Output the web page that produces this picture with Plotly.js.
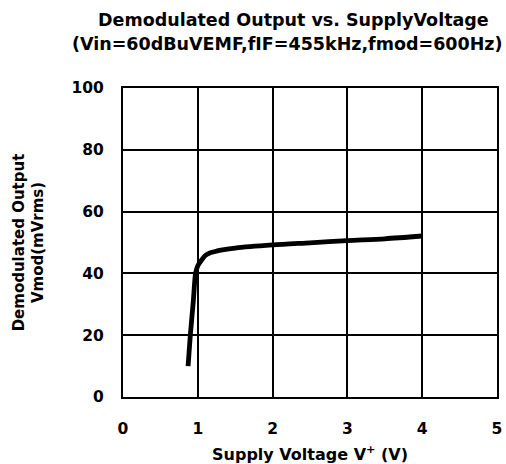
<!DOCTYPE html>
<html>
<head>
<meta charset="utf-8">
<script src="https://cdn.plot.ly/plotly-3.0.1.min.js"></script>
<style>html,body{margin:0;padding:0;background:#fff;}#chart{width:506px;height:464px;}</style>
</head>
<body>
<div id="chart"></div>
<script>
const supplyVoltage = [0.87, 0.90, 0.94, 0.97, 1.0, 1.05, 1.1, 1.16, 1.25, 1.33, 1.5, 2.0, 2.5, 3.0, 3.5, 4.0];
const demodOutput = [10, 20, 31, 40, 42.5, 44.3, 45.8, 46.6, 47.2, 47.6, 48.2, 49.2, 49.9, 50.6, 51.2, 52.1];
const xTicks = [0, 1, 2, 3, 4, 5];
const yTicks = [0, 20, 40, 60, 80, 100];
const titleLines = ['Demodulated Output vs. SupplyVoltage', '(Vin=60dBuVEMF,fIF=455kHz,fmod=600Hz)'];

const fontFam = '"DejaVu Sans", Verdana, sans-serif';

const trace = {
  x: supplyVoltage,
  y: demodOutput,
  type: 'scatter',
  mode: 'lines',
  line: {color: '#000', width: 4.8, shape: 'spline', smoothing: 0.8},
  showlegend: false,
  hoverinfo: 'skip'
};

const plotTop = 88, plotBottom = 397;
const pxToPaperY = (py) => (plotBottom - py) / (plotBottom - plotTop);

const layout = {
  width: 506, height: 464,
  paper_bgcolor: '#fff', plot_bgcolor: '#fff',
  margin: {l: 123, r: 9, t: plotTop, b: 464 - plotBottom},
  font: {family: fontFam, color: '#000'},
  annotations: [
    {text: titleLines[0], xref: 'paper', yref: 'paper', x: 0.456, y: pxToPaperY(20),
     xanchor: 'center', yanchor: 'middle', showarrow: false,
     font: {family: fontFam, size: 17.5, weight: 'bold', color: '#000'}},
    {text: titleLines[1], xref: 'paper', yref: 'paper', x: 0.44, y: pxToPaperY(44),
     xanchor: 'center', yanchor: 'middle', showarrow: false,
     font: {family: fontFam, size: 17.5, weight: 'bold', color: '#000'}}
  ],
  xaxis: {
    range: [0, 5], tickvals: xTicks, ticktext: xTicks.map(String),
    showgrid: true, gridcolor: '#000', gridwidth: 2,
    zeroline: false, showline: true, linecolor: '#000', linewidth: 2, mirror: true,
    ticks: '', ticklabelstandoff: 16,
    tickfont: {family: fontFam, size: 15.5, weight: 'bold', color: '#000'},
    title: {text: 'Supply Voltage V<sup>+</sup> (V)', standoff: 13,
      font: {family: fontFam, size: 16, weight: 'bold', color: '#000'}},
    fixedrange: true
  },
  yaxis: {
    range: [0, 100], tickvals: yTicks, ticktext: yTicks.map(String),
    showgrid: true, gridcolor: '#000', gridwidth: 2,
    zeroline: false, showline: true, linecolor: '#000', linewidth: 2, mirror: true,
    ticks: '', ticklabelstandoff: 14,
    tickfont: {family: fontFam, size: 15.5, weight: 'bold', color: '#000'},
    title: {text: 'Demodulated Output<br>Vmod(mVrms)', standoff: 24,
      font: {family: fontFam, size: 15, weight: 'bold', color: '#000'}},
    fixedrange: true
  }
};

Plotly.newPlot('chart', [trace], layout, {displayModeBar: false, staticPlot: true});
</script>
</body>
</html>
